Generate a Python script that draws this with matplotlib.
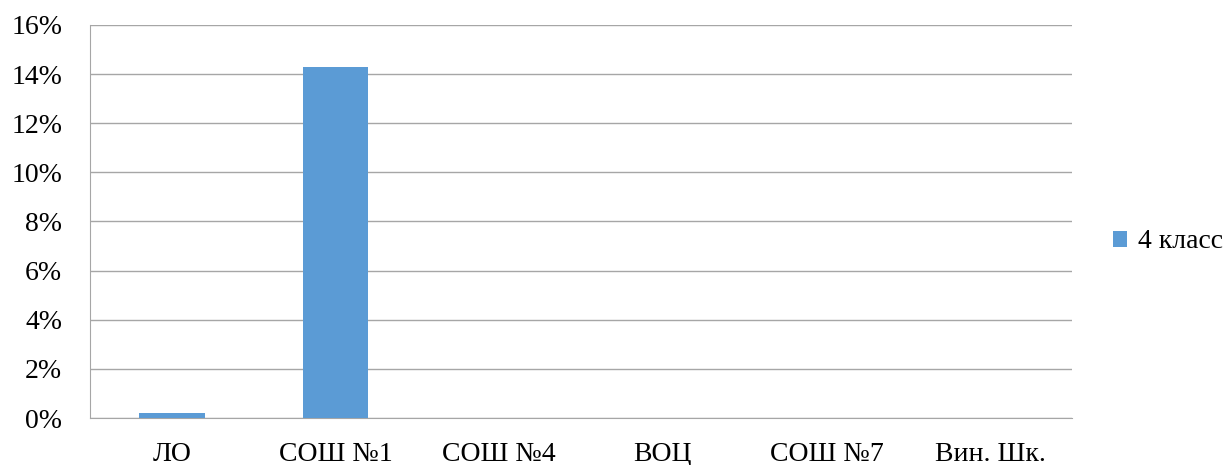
import matplotlib
matplotlib.use("Agg")
import matplotlib.pyplot as plt
from matplotlib.ticker import FuncFormatter, MultipleLocator

categories = ["ЛО", "СОШ №1", "СОШ №4", "ВОЦ", "СОШ №7", "Вин. Шк."]
values = [0.2, 14.3, 0, 0, 0, 0]
series_name = "4 класс"

plt.rcParams['font.family'] = ['Liberation Serif', 'DejaVu Serif']

fig = plt.figure(figsize=(12.27, 4.65), dpi=100)
ax = fig.add_axes([90/1227, 47/465, 982/1227, 393/465])

x = range(len(categories))
bars = ax.bar(x, values, width=0.4, color="#5B9BD5", label=series_name, zorder=3)

ax.set_xlim(-0.5, len(categories) - 0.5)
ax.set_ylim(0, 16)
ax.yaxis.set_major_locator(MultipleLocator(2))
ax.yaxis.set_major_formatter(FuncFormatter(lambda v, p: f"{v:.0f}%"))
ax.set_xticks(list(x))
ax.set_xticklabels(categories)
ax.grid(axis='y', color="#A6A6A6", linewidth=1.0, zorder=0)
for s in ["top", "right"]:
    ax.spines[s].set_visible(False)
ax.spines["left"].set_color("#A6A6A6")
ax.spines["bottom"].set_color("#A6A6A6")
ax.tick_params(axis='both', length=0, labelsize=20, colors="black")
ax.tick_params(axis='x', pad=17)
ax.tick_params(axis='y', pad=20)

fig.legend(handles=[bars], labels=[series_name], loc="center left",
           bbox_to_anchor=(1113/1227, 1 - 242/465), frameon=False, fontsize=20,
           handlelength=0.5, handleheight=0.5, handletextpad=0.4,
           borderpad=0, borderaxespad=0)

fig.savefig("out.png", dpi=100)
